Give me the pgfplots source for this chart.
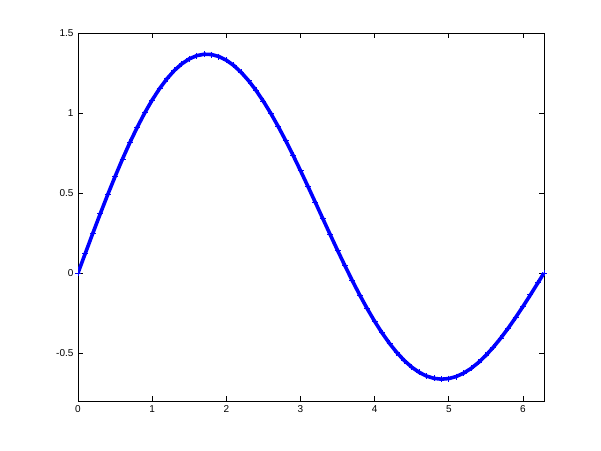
\documentclass[border=0pt]{standalone}
\usepackage{pgfplots}
\pgfplotsset{compat=1.18}
\usepackage{fontspec}
\setmainfont{Liberation Sans}
\begin{document}
\fontsize{10}{12}\selectfont
\begin{tikzpicture}
\path[use as bounding box] (-78pt,-49pt) rectangle (523pt,401pt);
\begin{axis}[
  at={(0,0)}, anchor=south west,
  scale only axis, width=466pt, height=368pt,
  xmin=0, xmax=6.2832, ymin=-0.8, ymax=1.5,
  xtick={0,1,2,3,4,5,6}, ytick={-0.5,0,0.5,1,1.5},
  yticklabels={-0.5,0,0.5,1,1.5},
  tick align=inside, major tick length=5pt,
  axis line style={line width=0.7pt},
  every tick/.style={line width=0.7pt, black},
  tick label style={font=\fontsize{10}{12}\selectfont},
  /pgf/number format/assume math mode=true,
  xticklabel style={yshift=-1pt},
  yticklabel style={xshift=-1pt},
]
\addplot[blue, line width=3.6pt, mark=+, mark size=3pt, mark options={line width=1pt}] coordinates {
(0,0) (0.1,0.1248) (0.2,0.2486) (0.3,0.3702) (0.4,0.4888) (0.5,0.6031)
(0.6,0.7124) (0.7,0.8157) (0.8,0.9121) (0.9,1.0008) (1.0,1.0812)
(1.1,1.1526) (1.2,1.2144) (1.3,1.2662) (1.4,1.3076) (1.5,1.3383)
(1.6,1.3583) (1.7,1.3673) (1.8,1.3655) (1.9,1.3530) (2.0,1.3300)
(2.1,1.2969) (2.2,1.2541) (2.3,1.2021) (2.4,1.1415) (2.5,1.0730)
(2.6,0.9973) (2.7,0.9152) (2.8,0.8277) (2.9,0.7356) (3.0,0.6399)
(3.1,0.5415) (3.2,0.4414) (3.3,0.3407) (3.4,0.2403) (3.5,0.1412)
(3.6,0.0444) (3.7,-0.0492) (3.8,-0.1387) (3.9,-0.2233) (4.0,-0.3022)
(4.1,-0.3746) (4.2,-0.4400) (4.3,-0.4977) (4.4,-0.5474) (4.5,-0.5885)
(4.6,-0.6208) (4.7,-0.6442) (4.8,-0.6584) (4.9,-0.6636) (5.0,-0.6597)
(5.1,-0.6470) (5.2,-0.6257) (5.3,-0.5963) (5.4,-0.5591) (5.5,-0.5147)
(5.6,-0.4638) (5.7,-0.4070) (5.8,-0.3450) (5.9,-0.2787) (6.0,-0.2089)
(6.1,-0.1364) (6.2,-0.0623) (6.2832,0)
};
\end{axis}
\end{tikzpicture}
\end{document}
